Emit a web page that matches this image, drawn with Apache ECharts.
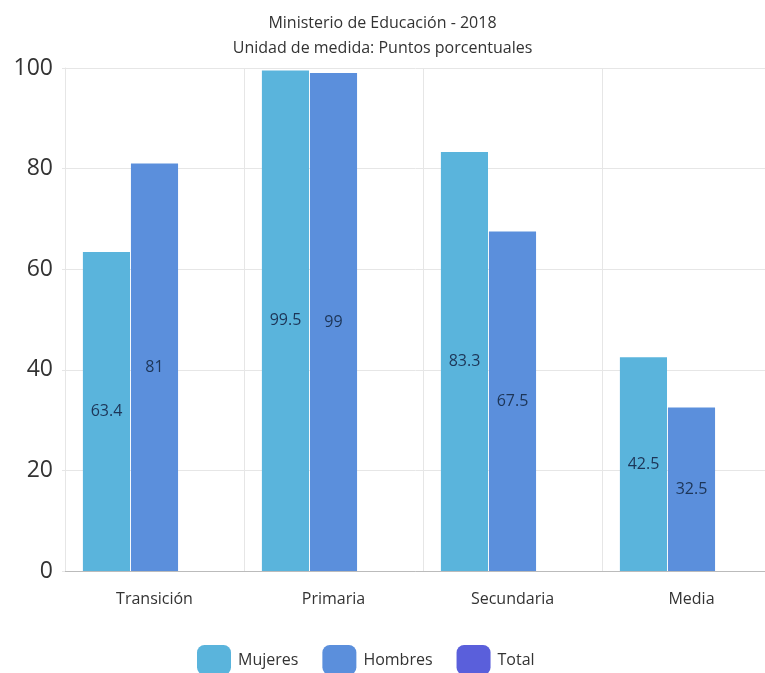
<!DOCTYPE html>
<html><head><meta charset="utf-8">
<script src="https://cdn.jsdelivr.net/npm/echarts@6/dist/echarts.min.js"></script>
<style>html,body{margin:0;padding:0;background:#fff}#c{width:765px;height:673px}</style>
</head><body><div id="c"></div>
<script>
var categories = ['Transición', 'Primaria', 'Secundaria', 'Media'];
var mujeres = [63.4, 99.5, 83.3, 42.5];
var hombres = [81, 99, 67.5, 32.5];
var total = [null, null, null, null];
var yTicks = [0, 20, 40, 60, 80, 100];

var font = 'Open Sans';
var chart = echarts.init(document.getElementById('c'));
var lbl = {show: true, position: 'inside', color: '#1d3557', fontSize: 16, fontFamily: font};
chart.setOption({
  animation: false,
  title: {
    text: 'Ministerio de Educación - 2018\nUnidad de medida: Puntos porcentuales',
    left: 'center', top: 6,
    textStyle: {fontSize: 16, fontWeight: 'normal', color: '#333', fontFamily: font, lineHeight: 25}
  },
  legend: {
    top: 640, left: 192, itemWidth: 34, itemHeight: 30, itemGap: 24,
    textStyle: {fontSize: 16, color: '#333', fontFamily: font, padding: [0, 0, 0, 2]},
    data: ['Mujeres', 'Hombres', 'Total']
  },
  grid: {left: 65, right: -16, top: 68, bottom: 102, containLabel: false, outerBoundsMode: 'none'},
  xAxis: {
    type: 'category', data: categories,
    axisLine: {lineStyle: {color: '#bbb'}},
    axisTick: {show: false},
    axisLabel: {fontSize: 16, color: '#333', fontFamily: font, margin: 20},
    splitLine: {show: true, lineStyle: {color: '#e6e6e6'}}
  },
  yAxis: {
    type: 'value', min: yTicks[0], max: yTicks[yTicks.length - 1], interval: 20,
    axisLine: {show: true, lineStyle: {color: '#e6e6e6'}},
    axisTick: {show: true, length: 3, lineStyle: {color: '#e6e6e6'}},
    axisLabel: {fontSize: 23, color: '#333', fontFamily: font, margin: 12},
    splitLine: {lineStyle: {color: '#e6e6e6'}}
  },
  series: [
    {name: 'Mujeres', type: 'bar', data: mujeres, itemStyle: {color: '#5ab4dc'}, label: lbl, barGap: '2%', barCategoryGap: '20%'},
    {name: 'Hombres', type: 'bar', data: hombres, itemStyle: {color: '#5b8fdc'}, label: lbl},
    {name: 'Total', type: 'bar', data: total, itemStyle: {color: '#5a5fdb'}, label: lbl}
  ]
});
</script></body></html>
